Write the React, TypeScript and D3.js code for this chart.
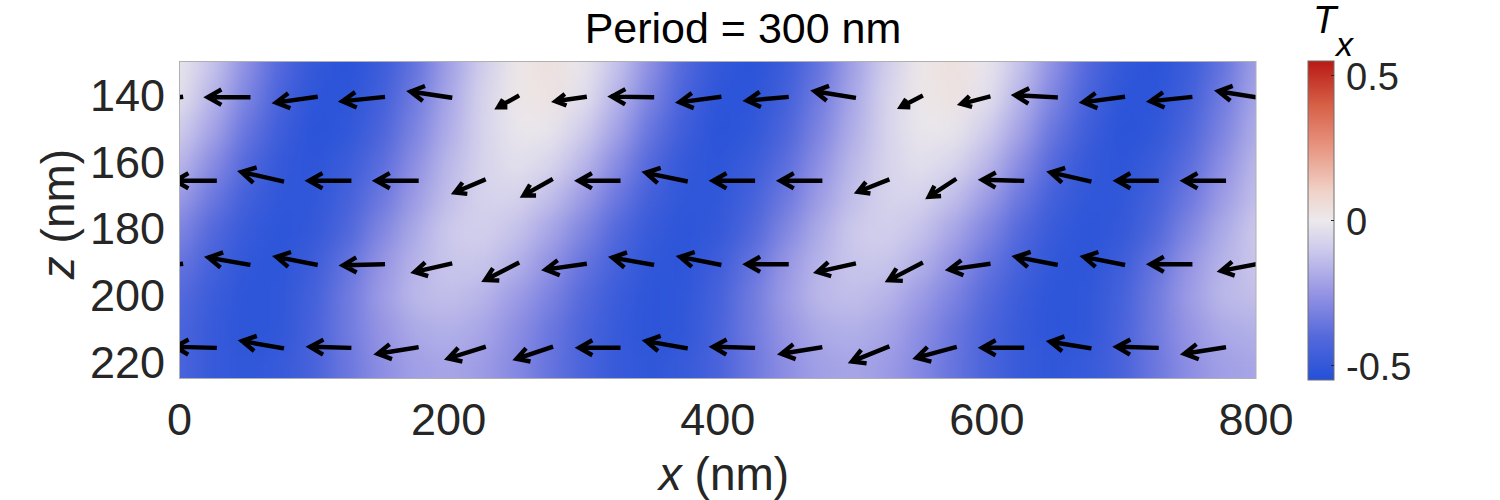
import React, { useEffect, useRef } from "react";
import * as d3 from "d3";

// heat map grid (x in nm, z in nm), values of T_x
const heatX = [0, 25, 50, 75, 100, 125, 150, 175, 200, 225, 250, 275, 300, 325, 350, 375, 400, 425, 450, 475, 500, 525, 550, 575, 600, 625, 650, 675, 700, 725, 750, 775, 800];
const heatZ = [130, 140, 150, 160, 170, 180, 190, 200, 210, 220];
const heatT = [
  [-0.01, -0.12, -0.27, -0.41, -0.5, -0.53, -0.48, -0.37, -0.22, -0.09, 0.01, 0.04, -0.01, -0.12, -0.27, -0.41, -0.5, -0.53, -0.48, -0.37, -0.22, -0.09, 0.01, 0.04, -0.01, -0.12, -0.27, -0.41, -0.5, -0.53, -0.48, -0.37, -0.22],
  [-0.03, -0.16, -0.31, -0.44, -0.52, -0.52, -0.46, -0.34, -0.2, -0.07, 0.01, 0.03, -0.03, -0.16, -0.31, -0.44, -0.52, -0.52, -0.46, -0.34, -0.2, -0.07, 0.01, 0.03, -0.03, -0.16, -0.31, -0.44, -0.52, -0.52, -0.46, -0.34, -0.2],
  [-0.09, -0.21, -0.36, -0.47, -0.53, -0.51, -0.43, -0.31, -0.18, -0.07, -0.01, -0.01, -0.09, -0.21, -0.36, -0.47, -0.53, -0.51, -0.43, -0.31, -0.18, -0.07, -0.01, -0.01, -0.09, -0.21, -0.36, -0.47, -0.53, -0.51, -0.43, -0.31, -0.18],
  [-0.15, -0.28, -0.41, -0.5, -0.52, -0.48, -0.39, -0.27, -0.15, -0.07, -0.03, -0.06, -0.15, -0.28, -0.41, -0.5, -0.52, -0.48, -0.39, -0.27, -0.15, -0.07, -0.03, -0.06, -0.15, -0.28, -0.41, -0.5, -0.52, -0.48, -0.39, -0.27, -0.15],
  [-0.23, -0.35, -0.46, -0.51, -0.51, -0.45, -0.35, -0.23, -0.13, -0.07, -0.07, -0.13, -0.23, -0.35, -0.46, -0.51, -0.51, -0.45, -0.35, -0.23, -0.13, -0.07, -0.07, -0.13, -0.23, -0.35, -0.46, -0.51, -0.51, -0.45, -0.35, -0.23, -0.13],
  [-0.3, -0.41, -0.49, -0.52, -0.5, -0.42, -0.3, -0.19, -0.1, -0.08, -0.12, -0.2, -0.3, -0.41, -0.49, -0.52, -0.5, -0.42, -0.3, -0.19, -0.1, -0.08, -0.12, -0.2, -0.3, -0.41, -0.49, -0.52, -0.5, -0.42, -0.3, -0.19, -0.1],
  [-0.36, -0.45, -0.51, -0.52, -0.47, -0.37, -0.25, -0.16, -0.11, -0.11, -0.17, -0.26, -0.36, -0.45, -0.51, -0.52, -0.47, -0.37, -0.25, -0.16, -0.11, -0.11, -0.17, -0.26, -0.36, -0.45, -0.51, -0.52, -0.47, -0.37, -0.25, -0.16, -0.11],
  [-0.4, -0.48, -0.52, -0.51, -0.45, -0.34, -0.23, -0.15, -0.13, -0.16, -0.23, -0.31, -0.4, -0.48, -0.52, -0.51, -0.45, -0.34, -0.23, -0.15, -0.13, -0.16, -0.23, -0.31, -0.4, -0.48, -0.52, -0.51, -0.45, -0.34, -0.23, -0.15, -0.13],
  [-0.43, -0.49, -0.52, -0.51, -0.44, -0.34, -0.25, -0.19, -0.17, -0.2, -0.27, -0.35, -0.43, -0.49, -0.52, -0.51, -0.44, -0.34, -0.25, -0.19, -0.17, -0.2, -0.27, -0.35, -0.43, -0.49, -0.52, -0.51, -0.44, -0.34, -0.25, -0.19, -0.17],
  [-0.43, -0.49, -0.51, -0.49, -0.44, -0.35, -0.27, -0.22, -0.2, -0.23, -0.29, -0.36, -0.43, -0.49, -0.51, -0.49, -0.44, -0.35, -0.27, -0.22, -0.2, -0.23, -0.29, -0.36, -0.43, -0.49, -0.51, -0.49, -0.44, -0.35, -0.27, -0.22, -0.2],
];

// quiver rows: base points and displacement (nm)
const arrowRowZ = [140, 165, 190, 215];
const arrowXEven = [0, 50, 100, 150, 200, 250, 300, 350, 400, 450, 500, 550, 600, 650, 700, 750, 800];
const arrowXOdd = [25, 75, 125, 175, 225, 275, 325, 375, 425, 475, 525, 575, 625, 675, 725, 775];
const arrowU = [
  [-20.6, -29.0, -28.3, -29.0, -28.3, -13.2, -20.6, -28.8, -28.5, -28.3, -28.0, -13.9, -19.1, -29.0, -28.5, -28.5, -28.0],
  [-28.3, -29.0, -28.8, -28.8, -20.3, -19.3, -28.5, -28.5, -28.5, -28.5, -20.8, -18.1, -28.5, -27.7, -28.3, -28.5],
  [-28.0, -28.5, -28.0, -28.5, -25.3, -22.8, -28.0, -28.3, -28.0, -28.5, -26.0, -23.0, -28.0, -28.5, -28.0, -28.5, -26.0],
  [-28.3, -28.5, -28.0, -27.7, -25.3, -24.5, -28.0, -28.3, -28.5, -27.7, -25.3, -27.3, -28.5, -28.0, -28.5, -28.3],
];
const arrowW = [
  [1.2, 0.0, 1.6, 1.2, -1.7, 3.0, 1.2, -0.2, 1.5, 1.0, -1.8, 2.9, 2.0, -0.6, 1.5, 1.2, -1.8],
  [0.0, -2.6, 0.0, 0.0, 3.5, 4.4, 0.0, -2.4, 0.0, 0.0, 3.3, 4.8, -0.3, -2.5, 0.0, 0.0],
  [1.6, -2.0, -2.2, 0.3, 2.3, 4.7, 1.6, -2.0, -2.2, 0.0, 2.3, 4.8, 1.6, -2.2, -2.2, 0.0, 2.0],
  [-0.3, -2.0, -0.3, 1.8, 3.2, 3.3, 0.0, -2.0, -0.3, 1.8, 4.1, 3.0, 0.0, -1.8, -0.3, 1.8],
];

const xTicks = [0, 200, 400, 600, 800];
const zTicks = [140, 160, 180, 200, 220];
const cbarTicks = [-0.5, 0, 0.5];
const cmapValues = [-0.55, -0.4, -0.25, -0.1, 0, 0.1, 0.25, 0.4, 0.55];
const cmapColors = ["#2350d8", "#5569dc", "#9694e4", "#cdcaec", "#ece9ec", "#f0d2c8", "#e89682", "#d75f46", "#b91914"];

const FONT = "'Liberation Sans', Arial, Helvetica, sans-serif";

const App = () => {
  const svgRef = useRef<SVGSVGElement>(null);

  useEffect(() => {
    const svg = d3.select(svgRef.current);
    svg.selectAll("*").remove();

    const plot = { left: 179.5, right: 1256, top: 61.5, bottom: 378.5 };

    const x = d3.scaleLinear().domain([0, 800]).range([plot.left, plot.right]);
    const z = d3.scaleLinear().domain([129.3, 224.2]).range([plot.top, plot.bottom]);
    const color = d3.scaleLinear<string>().domain(cmapValues).range(cmapColors).clamp(true);

    const defs = svg.append("defs");
    defs.append("clipPath").attr("id", "plotClip")
      .append("rect")
      .attr("x", plot.left).attr("y", plot.top)
      .attr("width", plot.right - plot.left).attr("height", plot.bottom - plot.top);

    defs.append("filter").attr("id", "smooth")
      .attr("filterUnits", "userSpaceOnUse")
      .attr("x", 50).attr("y", -50).attr("width", 1350).attr("height", 550)
      .attr("color-interpolation-filters", "sRGB")
      .append("feGaussianBlur").attr("stdDeviation", "13 12");

    // heat map
    const plotG = svg.append("g").attr("clip-path", "url(#plotClip)");
    const heatG = plotG.append("g").attr("filter", "url(#smooth)");
    const lastX = heatX.length - 1;
    const lastZ = heatZ.length - 1;
    heatZ.forEach((zv, j) => {
      const z0 = j === 0 ? zv - 20 : (heatZ[j - 1] + zv) / 2;
      const z1 = j === lastZ ? zv + 25 : (zv + heatZ[j + 1]) / 2;
      heatX.forEach((xv, i) => {
        const x0 = i === 0 ? xv - 60 : (heatX[i - 1] + xv) / 2;
        const x1 = i === lastX ? xv + 60 : (xv + heatX[i + 1]) / 2;
        heatG.append("rect")
          .attr("x", x(x0)).attr("y", z(z0))
          .attr("width", x(x1) - x(x0) + 0.5)
          .attr("height", z(z1) - z(z0) + 0.5)
          .attr("fill", color(heatT[j][i]));
      });
    });

    // quiver arrows
    const arrowG = plotG.append("g")
      .attr("fill", "none").attr("stroke", "#000")
      .attr("stroke-width", 4.4)
      .attr("stroke-linejoin", "miter")
      .attr("stroke-linecap", "square");
    arrowRowZ.forEach((zv, r) => {
      const xs = r % 2 === 0 ? arrowXEven : arrowXOdd;
      xs.forEach((xv, k) => {
        const tx = x(xv), ty = z(zv);
        const hx = x(xv + arrowU[r][k]), hy = z(zv + arrowW[r][k]);
        const dx = hx - tx, dy = hy - ty;
        const len = Math.hypot(dx, dy);
        const ex = dx / len, ey = dy / len;
        const back = 0.3 * len, half = 0.17 * len;
        const bx = hx - ex * back, by = hy - ey * back;
        const p = d3.path();
        p.moveTo(tx - ex * 1.5, ty - ey * 1.5);
        p.lineTo(hx - ex * 1.5, hy - ey * 1.5);
        p.moveTo(bx - ey * half, by + ex * half);
        p.lineTo(hx, hy);
        p.lineTo(bx + ey * half, by - ex * half);
        arrowG.append("path").attr("d", p.toString());
      });
    });

    // axes box
    svg.append("rect")
      .attr("x", plot.left).attr("y", plot.top)
      .attr("width", plot.right - plot.left).attr("height", plot.bottom - plot.top)
      .attr("fill", "none").attr("stroke", "#b0b0b0").attr("stroke-width", 1);

    const textColor = "#262626";

    // x ticks
    svg.append("g").selectAll("text").data(xTicks).enter().append("text")
      .attr("x", d => x(d)).attr("y", 435)
      .attr("text-anchor", "middle")
      .attr("font-family", FONT).attr("font-size", 45).attr("fill", textColor)
      .text(d => d);

    // z ticks
    svg.append("g").selectAll("text").data(zTicks).enter().append("text")
      .attr("x", 165).attr("y", d => z(d) + 13.5)
      .attr("text-anchor", "end")
      .attr("font-family", FONT).attr("font-size", 45).attr("fill", textColor)
      .text(d => d);

    // axis labels
    const xl = svg.append("text")
      .attr("x", 724).attr("y", 490)
      .attr("text-anchor", "middle")
      .attr("font-family", FONT).attr("font-size", 46).attr("fill", textColor);
    xl.append("tspan").attr("font-style", "italic").text("x");
    xl.append("tspan").text(" (nm)");

    const zl = svg.append("text")
      .attr("transform", "translate(74,214) rotate(-90)")
      .attr("text-anchor", "middle")
      .attr("font-family", FONT).attr("font-size", 46).attr("fill", textColor);
    zl.append("tspan").attr("font-style", "italic").text("z");
    zl.append("tspan").text(" (nm)");

    // title
    svg.append("text")
      .attr("x", 743).attr("y", 43)
      .attr("text-anchor", "middle")
      .attr("font-family", FONT).attr("font-size", 43).attr("fill", "#000")
      .text("Period = 300 nm");

    // colorbar
    const cb = { left: 1308, width: 26 };
    const cbarY = d3.scaleLinear().domain([-0.55, 0.55]).range([380, 61]);
    const grad = defs.append("linearGradient").attr("id", "cbarGrad")
      .attr("x1", 0).attr("y1", 1).attr("x2", 0).attr("y2", 0);
    cmapValues.forEach((v, i) => {
      grad.append("stop")
        .attr("offset", (v - cmapValues[0]) / (cmapValues[cmapValues.length - 1] - cmapValues[0]))
        .attr("stop-color", cmapColors[i]);
    });
    svg.append("rect")
      .attr("x", cb.left).attr("y", cbarY(0.55))
      .attr("width", cb.width).attr("height", cbarY(-0.55) - cbarY(0.55))
      .attr("fill", "url(#cbarGrad)")
      .attr("stroke", "#6e6e6e").attr("stroke-width", 1);
    cbarTicks.forEach(t => {
      svg.append("line")
        .attr("x1", cb.left + cb.width - 3).attr("x2", cb.left + cb.width)
        .attr("y1", cbarY(t)).attr("y2", cbarY(t))
        .attr("stroke", "#262626").attr("stroke-width", 1);
      svg.append("text")
        .attr("x", cb.left + 38).attr("y", cbarY(t) + 14)
        .attr("font-family", FONT).attr("font-size", 38).attr("fill", textColor)
        .text(t === 0 ? "0" : t < 0 ? "-0.5" : "0.5");
    });

    // colorbar label T_x
    svg.append("text")
      .attr("x", 1313).attr("y", 33)
      .attr("font-family", FONT).attr("font-size", 38).attr("fill", "#000")
      .attr("font-style", "italic")
      .text("T");
    svg.append("text")
      .attr("x", 1336).attr("y", 56)
      .attr("font-family", FONT).attr("font-size", 34).attr("fill", "#000")
      .attr("font-style", "italic")
      .text("x");
  }, []);

  return (
    <svg
      ref={svgRef}
      width={1500}
      height={500}
      style={{ position: "absolute", left: 0, top: 0, background: "#fff" }}
    />
  );
};

export default App;
